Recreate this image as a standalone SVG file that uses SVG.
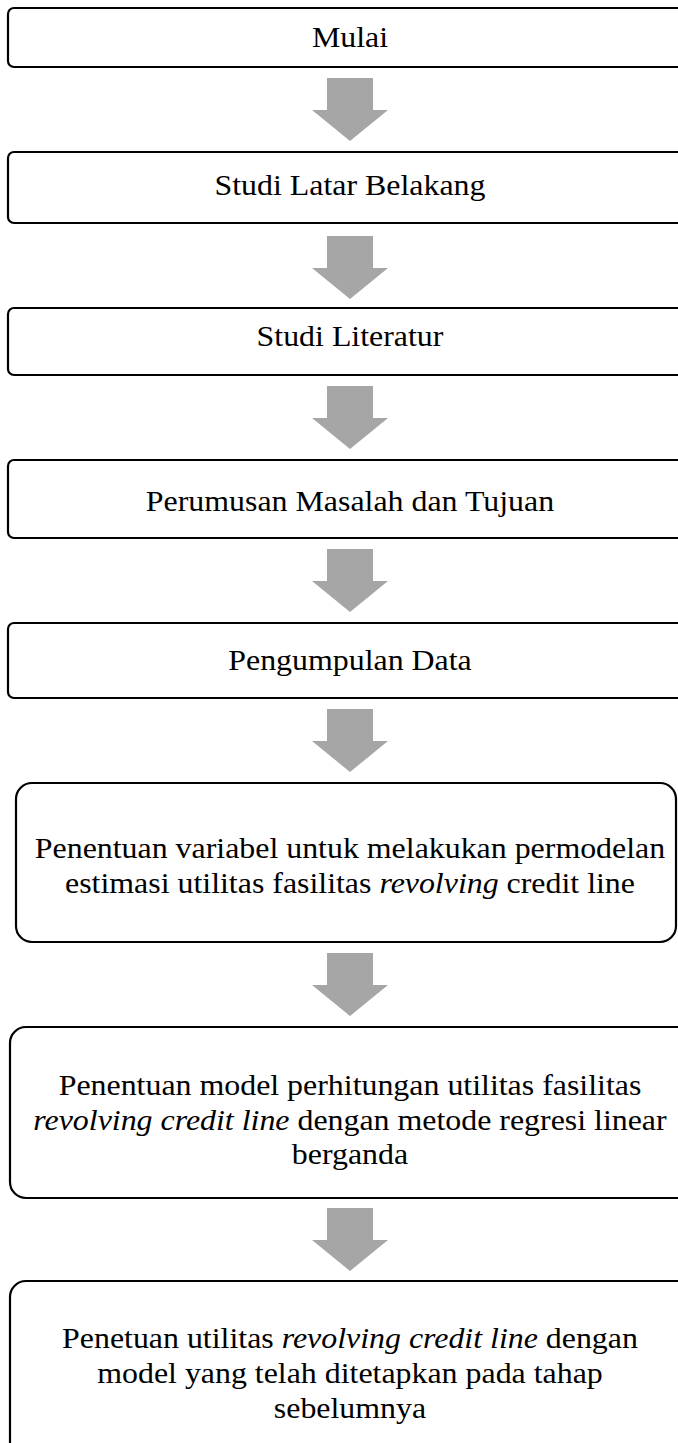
<svg xmlns="http://www.w3.org/2000/svg" width="678" height="1443" viewBox="0 0 678 1443">
<style>
.box{fill:#ffffff;stroke:#000000;stroke-width:2.2}
.arr{fill:#a6a6a6;stroke:none}
.t{font-family:"Liberation Serif","Times New Roman",serif;font-size:29px;fill:#000000;text-anchor:middle}
.i{font-style:italic}
</style>
<defs>
<path id="arrow" class="arr" d="M-23,0 H23 V32 H38 L0,63 L-38,32 H-23 Z"/>
</defs>
<rect x="0" y="0" width="678" height="1443" fill="#ffffff"/>
<g id="connectors">
<use href="#arrow" x="350" y="78"/>
<use href="#arrow" x="350" y="236"/>
<use href="#arrow" x="350" y="386"/>
<use href="#arrow" x="350" y="549"/>
<use href="#arrow" x="350" y="709"/>
<use href="#arrow" x="350" y="953"/>
<use href="#arrow" x="350" y="1208"/>
</g>
<g id="n1">
<rect class="box" x="8" y="8" width="690" height="59" rx="6"/>
<text class="t" x="350" y="47" transform="matrix(1.1 0 0 1 -35 0)">Mulai</text>
</g>
<g id="n2">
<rect class="box" x="8" y="152" width="690" height="71" rx="6"/>
<text class="t" x="350" y="195" transform="matrix(1.1 0 0 1 -35 0)">Studi Latar Belakang</text>
</g>
<g id="n3">
<rect class="box" x="8" y="308" width="690" height="67" rx="6"/>
<text class="t" x="350" y="346" transform="matrix(1.1 0 0 1 -35 0)">Studi Literatur</text>
</g>
<g id="n4">
<rect class="box" x="8" y="460" width="690" height="78" rx="6"/>
<text class="t" x="350" y="511" transform="matrix(1.1 0 0 1 -35 0)">Perumusan Masalah dan Tujuan</text>
</g>
<g id="n5">
<rect class="box" x="8" y="623" width="690" height="75" rx="6"/>
<text class="t" x="350" y="670" transform="matrix(1.1 0 0 1 -35 0)">Pengumpulan Data</text>
</g>
<g id="n6">
<rect class="box" x="16" y="783" width="660" height="159" rx="16"/>
<text class="t" x="350" y="858" transform="matrix(1.1 0 0 1 -35 0)">Penentuan variabel untuk melakukan permodelan</text>
<text class="t" x="350" y="893" transform="matrix(1.1 0 0 1 -35 0)">estimasi utilitas fasilitas <tspan class="i">revolving</tspan> credit line</text>
</g>
<g id="n7">
<rect class="box" x="10" y="1027" width="690" height="171" rx="16"/>
<text class="t" x="350" y="1095" transform="matrix(1.1 0 0 1 -35 0)">Penentuan model perhitungan utilitas fasilitas</text>
<text class="t" x="350" y="1130" transform="matrix(1.1 0 0 1 -35 0)"><tspan class="i">revolving credit line</tspan> dengan metode regresi linear</text>
<text class="t" x="350" y="1164" transform="matrix(1.1 0 0 1 -35 0)">berganda</text>
</g>
<g id="n8">
<rect class="box" x="10" y="1281" width="690" height="190" rx="16"/>
<text class="t" x="350" y="1348" transform="matrix(1.1 0 0 1 -35 0)">Penetuan utilitas <tspan class="i">revolving credit line</tspan> dengan</text>
<text class="t" x="350" y="1383" transform="matrix(1.1 0 0 1 -35 0)">model yang telah ditetapkan pada tahap</text>
<text class="t" x="350" y="1418" transform="matrix(1.1 0 0 1 -35 0)">sebelumnya</text>
</g>
</svg>
